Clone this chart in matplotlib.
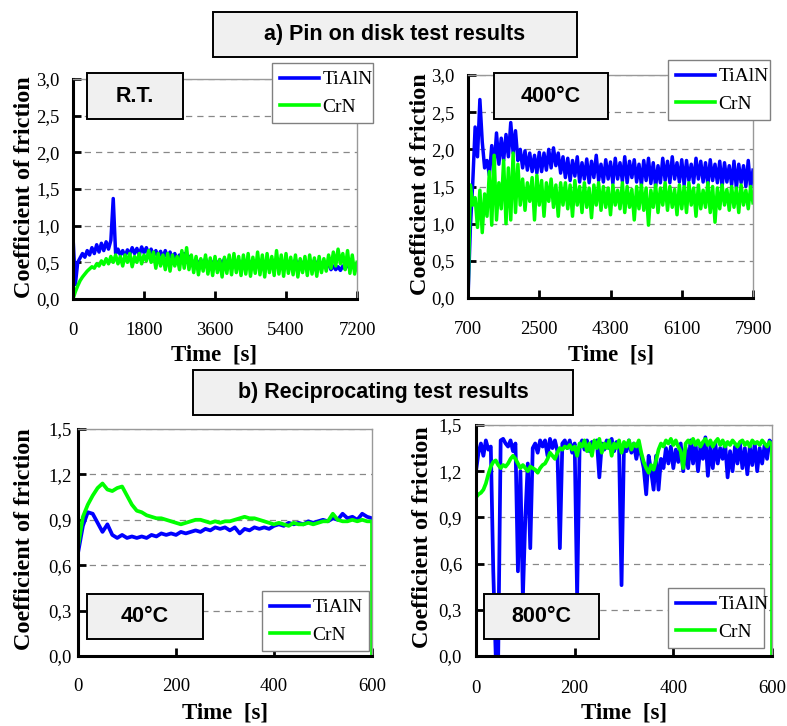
import numpy as np
import matplotlib
matplotlib.use("Agg")
import matplotlib.pyplot as plt
from matplotlib.patches import Rectangle
from matplotlib.lines import Line2D
from matplotlib.ticker import FuncFormatter

plt.rcParams['font.family'] = ['Liberation Serif', 'DejaVu Serif']

# ---------------- data ----------------
series_names = ["TiAlN", "CrN"]

# a) pin on disk, room temperature (time step 60 s)
rt_time = np.linspace(0, 7200, 121)
rt_tialn = [0.85, 0.20, 0.50, 0.56, 0.62, 0.57, 0.66, 0.60, 0.70, 0.62, 0.74, 0.64, 0.76, 0.66, 0.78, 0.68, 0.80,
            1.37,
            0.62, 0.68, 0.60, 0.66, 0.58, 0.67, 0.61, 0.70, 0.62, 0.69, 0.60, 0.71, 0.63, 0.70, 0.61, 0.68, 0.59,
            0.66, 0.57, 0.65, 0.56, 0.66, 0.55, 0.64, 0.54, 0.62, 0.53, 0.60, 0.52, 0.62, 0.50, 0.58, 0.52,
            0.48, 0.55, 0.46, 0.53, 0.47, 0.55, 0.45, 0.52, 0.48, 0.54,
            0.46, 0.53, 0.47, 0.55, 0.45, 0.52, 0.47, 0.54, 0.46, 0.53,
            0.45, 0.52, 0.47, 0.54, 0.46, 0.53, 0.45, 0.52, 0.47, 0.53,
            0.46, 0.52, 0.45, 0.54, 0.47, 0.53, 0.46, 0.52, 0.45, 0.53,
            0.47, 0.52, 0.46, 0.54, 0.45, 0.52, 0.47, 0.53, 0.46, 0.52,
            0.45, 0.53, 0.46, 0.52, 0.45, 0.50, 0.44, 0.48, 0.40, 0.45,
            0.40, 0.44, 0.39, 0.45, 0.41, 0.47, 0.43, 0.49, 0.45, 0.48]
rt_crn = [0.00, 0.10, 0.18, 0.25, 0.30, 0.34, 0.38, 0.41, 0.44, 0.42, 0.48, 0.45, 0.52, 0.47, 0.55, 0.48, 0.58, 0.50,
          0.60, 0.48, 0.58, 0.45, 0.60, 0.50, 0.62, 0.44, 0.58, 0.50, 0.62, 0.48, 0.60, 0.52, 0.66, 0.50, 0.64,
          0.42, 0.62, 0.45, 0.60, 0.40, 0.62, 0.38, 0.60, 0.45, 0.58, 0.40, 0.66, 0.42, 0.70, 0.40, 0.60,
          0.36, 0.58, 0.33, 0.55, 0.38, 0.60, 0.34, 0.56, 0.32, 0.58,
          0.36, 0.54, 0.30, 0.57, 0.35, 0.60, 0.33, 0.62, 0.36, 0.58,
          0.32, 0.60, 0.34, 0.62, 0.31, 0.57, 0.35, 0.64, 0.33, 0.60,
          0.30, 0.62, 0.36, 0.58, 0.32, 0.66, 0.34, 0.60, 0.31, 0.62,
          0.35, 0.57, 0.33, 0.60, 0.30, 0.55, 0.36, 0.58, 0.32, 0.60,
          0.34, 0.56, 0.31, 0.58, 0.36, 0.55, 0.38, 0.60, 0.42, 0.64,
          0.45, 0.68, 0.48, 0.62, 0.40, 0.66, 0.35, 0.60, 0.34, 0.50]

# a) pin on disk, 400 °C (time step 60 s)
ht_time = np.linspace(700, 7900, 121)
ht_tialn = [0.00, 0.95, 1.55, 2.30, 1.90, 2.67, 2.10, 1.75, 1.85, 1.65, 2.05, 1.75, 2.22, 1.80, 2.15, 1.85,
            2.20, 1.90, 2.36, 1.95, 2.25, 1.85, 2.00, 1.75, 1.98, 1.72, 1.95, 1.70, 1.92, 1.68, 1.96, 1.70,
            1.95, 1.72, 2.00, 1.75, 2.02, 1.78, 1.95, 1.68, 1.90,
            1.62, 1.88, 1.58, 1.85, 1.64, 1.90, 1.56, 1.82, 1.60, 1.87,
            1.55, 1.84, 1.62, 1.92, 1.58, 1.80, 1.56, 1.86, 1.60, 1.83,
            1.54, 1.88, 1.60, 1.82, 1.57, 1.90, 1.55, 1.84, 1.62, 1.86,
            1.56, 1.80, 1.52, 1.85, 1.58, 1.88, 1.54, 1.82, 1.50, 1.78,
            1.55, 1.88, 1.58, 1.84, 1.55, 1.90, 1.60, 1.82, 1.56, 1.86,
            1.52, 1.85, 1.58, 1.80, 1.55, 1.88, 1.60, 1.84, 1.56, 1.82,
            1.52, 1.86, 1.58, 1.80, 1.55, 1.84, 1.50, 1.82, 1.56, 1.78,
            1.52, 1.84, 1.48, 1.80, 1.55, 1.78, 1.50, 1.85, 1.48, 1.72]
ht_crn = [0.00, 1.52, 1.25, 1.35, 0.95, 1.45, 0.88, 1.40, 1.10, 1.70, 0.98, 1.92, 1.05, 1.55, 1.20, 1.85,
          1.00, 1.75, 1.05, 1.95, 1.15, 1.80, 1.25, 1.60, 1.18, 1.55, 1.30, 1.62, 1.05, 1.65, 1.25, 1.58,
          1.10, 1.55, 1.30, 1.60, 1.22, 1.52, 1.10, 1.55, 1.25,
          1.55, 1.20, 1.52, 1.10, 1.58, 1.25, 1.50, 1.15, 1.55, 1.22,
          1.48, 1.08, 1.52, 1.25, 1.55, 1.18, 1.50, 1.22, 1.48, 1.12,
          1.52, 1.25, 1.45, 1.20, 1.55, 1.15, 1.50, 1.22, 1.46, 1.05,
          1.50, 1.20, 1.52, 1.18, 1.48, 0.98, 1.45, 1.22, 1.52, 1.15,
          1.48, 1.25, 1.55, 1.18, 1.50, 1.22, 1.46, 1.12, 1.52, 1.20,
          1.50, 1.15, 1.55, 1.25, 1.48, 1.10, 1.52, 1.20, 1.45, 1.22,
          1.55, 1.15, 1.50, 1.02, 1.48, 1.20, 1.52, 1.25, 1.46, 1.18,
          1.50, 1.22, 1.48, 1.15, 1.52, 1.25, 1.45, 1.20, 1.50, 1.28]

# b) reciprocating, 40 °C (time step 10 s); CrN record ends with a drop to zero
r40_time = np.linspace(0, 600, 61)
r40_tialn = [0.68, 0.86, 0.95, 0.94, 0.88, 0.82, 0.87, 0.80, 0.78, 0.80,
             0.78, 0.79, 0.78, 0.79, 0.78, 0.80, 0.79, 0.81, 0.80, 0.81,
             0.80, 0.82, 0.81, 0.82, 0.83, 0.82, 0.84, 0.83, 0.85, 0.84,
             0.85, 0.83, 0.85, 0.81, 0.84, 0.83, 0.85, 0.84, 0.85, 0.84,
             0.86, 0.87, 0.86, 0.88, 0.87, 0.88, 0.87, 0.89, 0.88, 0.89,
             0.90, 0.89, 0.91, 0.90, 0.94, 0.91, 0.92, 0.90, 0.94, 0.92, 0.91]
r40_crn = [0.72, 0.92, 1.00, 1.06, 1.11, 1.14, 1.10, 1.09, 1.11, 1.12,
           1.06, 1.00, 0.96, 0.95, 0.93, 0.92, 0.91, 0.91, 0.90, 0.89,
           0.88, 0.87, 0.88, 0.89, 0.90, 0.90, 0.89, 0.88, 0.89, 0.88,
           0.89, 0.89, 0.90, 0.91, 0.92, 0.91, 0.91, 0.90, 0.89, 0.88,
           0.87, 0.88, 0.87, 0.86, 0.88, 0.87, 0.87, 0.88, 0.87, 0.88,
           0.89, 0.89, 0.94, 0.90, 0.89, 0.89, 0.90, 0.89, 0.90, 0.89, 0.89,
           0.00]

# b) reciprocating, 800 °C (time step 5 s); CrN record ends with a drop to zero
r800_time = np.linspace(0, 600, 121)
r800_tialn = [1.20, 1.32, 1.38, 1.30, 1.40, 1.34, 1.36, 0.55, 0.00, 0.00,
              1.40, 1.41, 1.38, 1.36, 1.40, 1.33, 1.38, 0.55, 1.20, 0.38,
              0.90, 1.25, 0.70, 1.35, 1.38, 1.32, 1.40, 1.36, 1.40, 1.30,
              1.41, 1.35, 1.40, 1.33, 0.70, 1.38, 1.40, 1.35, 1.40, 1.32,
              1.38, 0.38, 1.36, 1.40, 1.34, 1.40, 1.33, 1.39, 1.36, 1.40,
              1.16, 1.38, 1.34, 1.40, 1.35, 1.41, 1.33, 1.39, 1.35, 0.46,
              1.38, 1.33, 1.40, 1.32, 1.38, 1.28, 1.36, 1.30, 1.22, 1.05,
              1.30, 1.20, 1.08, 1.30, 1.08, 1.28, 1.22, 1.35, 1.25, 1.36,
              1.22, 1.34, 1.26, 1.38, 1.20, 1.35, 1.22, 1.40, 1.25, 1.38,
              1.20, 1.36, 1.28, 1.42, 1.17, 1.36, 1.22, 1.38, 1.25, 1.35,
              1.28, 1.38, 1.16, 1.33, 1.20, 1.36, 1.25, 1.38, 1.22, 1.35,
              1.18, 1.36, 1.24, 1.38, 1.20, 1.35, 1.25, 1.37, 1.28, 1.40, 1.38]
r800_crn = [1.03, 1.05, 1.06, 1.08, 1.12, 1.18, 1.23, 1.26, 1.27, 1.24,
            1.22, 1.24, 1.23, 1.25, 1.28, 1.30, 1.28, 1.25, 1.22, 1.24,
            1.22, 1.20, 1.23, 1.22, 1.21, 1.19, 1.22, 1.24, 1.25, 1.28,
            1.32, 1.30, 1.28, 1.32, 1.35, 1.34, 1.36, 1.35, 1.37, 1.34,
            1.36, 1.30, 1.38, 1.36, 1.40, 1.33, 1.38, 1.30, 1.40, 1.35,
            1.41, 1.32, 1.38, 1.35, 1.40, 1.30, 1.38, 1.35, 1.40, 1.32,
            1.39, 1.36, 1.40, 1.34, 1.38, 1.36, 1.40, 1.32, 1.26, 1.22,
            1.19, 1.24, 1.21, 1.27, 1.34, 1.38, 1.36, 1.40, 1.38, 1.41,
            1.37, 1.40, 1.36, 1.33, 1.22, 1.38, 1.40, 1.38, 1.41, 1.37,
            1.40, 1.36, 1.39, 1.41, 1.37, 1.40, 1.36, 1.39, 1.41, 1.37,
            1.40, 1.36, 1.39, 1.37, 1.40, 1.38, 1.36, 1.39, 1.40, 1.37,
            1.39, 1.36, 1.40, 1.38, 1.39, 1.37, 1.40, 1.38, 1.36, 1.39, 1.37,
            0.00]

panel_tags = ["R.T.", "400°C", "40°C", "800°C"]
section_titles = ["a) Pin on disk test results", "b) Reciprocating test results"]
pin_xticks = [[0, 1800, 3600, 5400, 7200], [700, 2500, 4300, 6100, 7900]]
rec_xticks = [0, 200, 400, 600]
pin_yticks = [0.0, 0.5, 1.0, 1.5, 2.0, 2.5, 3.0]
rec_yticks = [0.0, 0.3, 0.6, 0.9, 1.2, 1.5]

# ---------------- layout (pixels) ----------------
W, H = 787, 726
fig = plt.figure(figsize=(W / 100, H / 100), dpi=100)

BLUE = "#0000FF"
GREEN = "#00FF00"
BOXFILL = "#F0F0F0"


def fx(px):
    return px / W


def fy(py):
    return 1 - py / H


def add_axes(l, r, t, b):
    return fig.add_axes([fx(l), fy(b), (r - l) / W, (b - t) / H])


def style_axes(ax, xlim, xticks, ylim, yticks, xpad, ypad):
    ax.set_xlim(*xlim)
    ax.set_ylim(*ylim)
    ax.set_xticks(xticks)
    ax.set_yticks(yticks)
    ax.yaxis.set_major_formatter(FuncFormatter(lambda v, p: f"{v:.1f}".replace(".", ",")))
    ax.xaxis.set_major_formatter(FuncFormatter(lambda v, p: f"{int(round(v))}"))
    for s in ("left", "bottom"):
        ax.spines[s].set_linewidth(2.2)
        ax.spines[s].set_color("black")
    for s in ("top", "right"):
        ax.spines[s].set_linewidth(1.0)
        ax.spines[s].set_color("#999999")
    ax.tick_params(axis="both", direction="in", length=6, width=2, labelsize=13.5,
                   top=False, right=False)
    ax.tick_params(axis="x", pad=xpad)
    ax.tick_params(axis="y", pad=ypad)
    ax.yaxis.grid(True, linestyle=(0, (5, 4)), color="#888888", linewidth=0.9)
    ax.set_axisbelow(True)


def place_labels(ax, rect, xl_center, yl_center):
    l, r, t, b = rect
    ax.set_xlabel("Time  [s]", fontsize=16.5, fontweight="bold")
    ax.set_ylabel("Coefficient of friction", fontsize=17.5, fontweight="bold")
    ax.xaxis.set_label_coords((xl_center[0] - l) / (r - l), (b - xl_center[1]) / (b - t))
    ax.yaxis.set_label_coords((yl_center[0] - l) / (r - l), (b - yl_center[1]) / (b - t))
    ax.xaxis.label.set_verticalalignment("center")
    ax.yaxis.label.set_verticalalignment("center")


def tag_box(l, r, t, b, text, size=15.5):
    fig.patches.append(Rectangle((fx(l), fy(b)), (r - l) / W, (b - t) / H,
                                 transform=fig.transFigure, facecolor=BOXFILL,
                                 edgecolor="black", linewidth=1.4, zorder=5))
    fig.text(fx((l + r) / 2), fy((t + b) / 2), text, ha="center", va="center",
             fontsize=size, fontweight="bold", family=["Liberation Sans", "DejaVu Sans"], zorder=6)


def add_legend(ax, l, t, w):
    handles = [Line2D([], [], color=BLUE, lw=2.6), Line2D([], [], color=GREEN, lw=2.6)]
    leg = ax.legend(handles, series_names, loc="upper left",
                    bbox_to_anchor=(fx(l), fy(t), w / W, 0.0001), bbox_transform=fig.transFigure,
                    mode="expand", borderaxespad=0, fontsize=14, handlelength=2.0,
                    handletextpad=0.2, labelspacing=0.5, borderpad=0.4,
                    fancybox=False, framealpha=1, edgecolor="#808080")
    leg.get_frame().set_linewidth(1.0)
    leg.set_zorder(10)
    return leg


LW_NOISY = 2.5
LW_SMOOTH = 2.7

# panel a1
r1 = (73, 357, 79, 299)
ax1 = add_axes(*r1)
ax1.plot(rt_time, rt_tialn, color=BLUE, lw=LW_NOISY)
ax1.plot(rt_time, rt_crn, color=GREEN, lw=LW_NOISY)
style_axes(ax1, (0, 7200), pin_xticks[0], (0, 3.0), pin_yticks, 16.5, 9.5)
place_labels(ax1, r1, (214, 355), (25, 187))
add_legend(ax1, 272, 63, 101)

# panel a2
r2 = (468, 753, 75, 298)
ax2 = add_axes(*r2)
ax2.plot(ht_time, ht_tialn, color=BLUE, lw=LW_NOISY)
ax2.plot(ht_time, ht_crn, color=GREEN, lw=LW_NOISY)
style_axes(ax2, (700, 7900), pin_xticks[1], (0, 3.0), pin_yticks, 16.5, 9.5)
place_labels(ax2, r2, (611, 355), (420, 184))
add_legend(ax2, 668, 60, 102)

# panel b1
r3 = (78, 372, 429, 656)
ax3 = add_axes(*r3)
ax3.plot(r40_time, r40_tialn, color=BLUE, lw=LW_SMOOTH)
ax3.plot(np.append(r40_time, r40_time[-1]), r40_crn, color=GREEN, lw=LW_SMOOTH)
style_axes(ax3, (0, 600), rec_xticks, (0, 1.5), rec_yticks, 16, 4.5)
place_labels(ax3, r3, (225, 713), (25, 539))
add_legend(ax3, 262, 591, 107)

# panel b2
r4 = (476, 772, 425, 656)
ax4 = add_axes(*r4)
ax4.plot(r800_time, r800_tialn, color=BLUE, lw=LW_SMOOTH)
ax4.plot(np.append(r800_time, r800_time[-1]), r800_crn, color=GREEN, lw=LW_SMOOTH)
style_axes(ax4, (0, 600), rec_xticks, (0, 1.5), rec_yticks, 17, 10)
place_labels(ax4, r4, (624, 713), (423, 537))
add_legend(ax4, 668, 588, 96)

# tags and section titles
tag_box(87, 183, 73, 119, panel_tags[0])
tag_box(494, 608, 73, 119, panel_tags[1])
tag_box(87, 203, 594, 639, panel_tags[2])
tag_box(484, 599, 594, 639, panel_tags[3])
tag_box(213, 577, 12, 57, section_titles[0], size=15.5)
tag_box(193, 573, 370, 415, section_titles[1], size=15.5)

fig.savefig("out.png", dpi=100)
